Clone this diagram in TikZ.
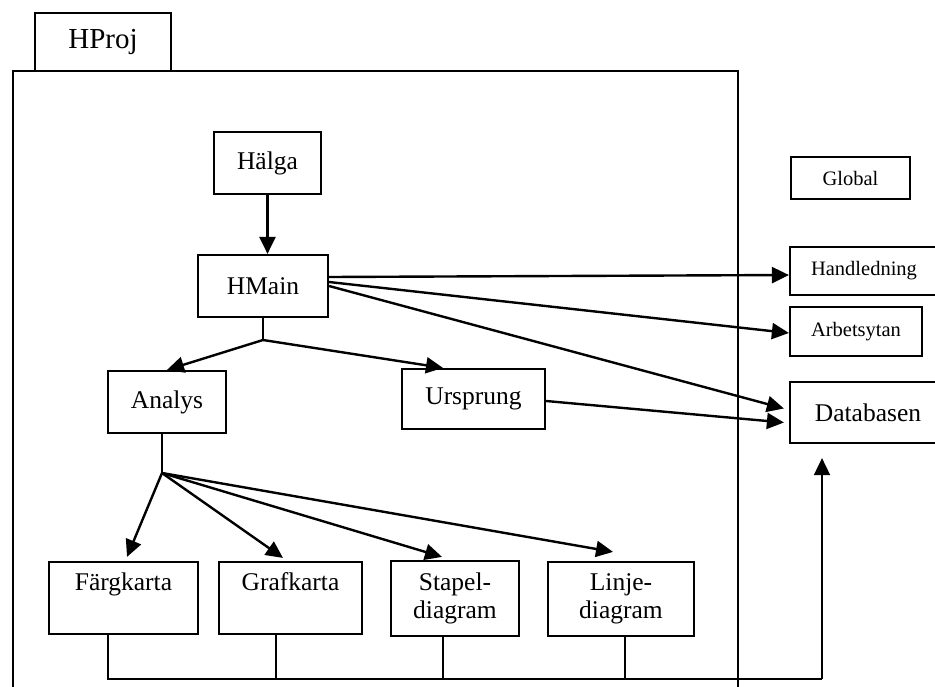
\documentclass[tikz,border=0pt]{standalone}
\usepackage{fontspec}
\setmainfont{Liberation Serif}
\usetikzlibrary{arrows.meta,calc}

\begin{document}
\begin{tikzpicture}[x=1pt,y=-1pt,
    box/.style={draw, line width=2.2pt, inner sep=0pt, align=center,
        font=\fontsize{25.5}{28}\selectfont},
    small/.style={box, font=\fontsize{20.5}{24}\selectfont},
    arr/.style={-{Triangle[length=17pt,width=16pt]}, line width=2.4pt},
    stem/.style={line width=1.6pt}]
    \useasboundingbox (0,0) rectangle (935,686);
    % package frame with its tab
    \draw[line width=2.2pt] (13,690) -- (13,71) -- (738,71) -- (738,690);
    \node[box, minimum width=136pt, minimum height=58pt, font=\fontsize{29}{32}\selectfont] (hproj) at (103,42) {HProj};
    % modules inside HProj
    \node[box, minimum width=107pt, minimum height=62pt] (halga) at (267.5,163) {Hälga};
    \node[box, minimum width=130pt, minimum height=62pt] (hmain) at (263,286) {HMain};
    \node[box, minimum width=118pt, minimum height=62pt] (analys) at (167,402) {Analys};
    \node[box, minimum width=143pt, minimum height=60pt] (ursprung) at (473.5,399) {Ursprung};
    \node[box, minimum width=149pt, minimum height=72pt] (farg) at (123.5,598) {Färgkarta\\\phantom{g}};
    \node[box, minimum width=143pt, minimum height=72pt] (graf) at (290.5,598) {Grafkarta\\\phantom{g}};
    \node[box, minimum width=128pt, minimum height=75pt] (stapel) at (455,598.5) {Stapel-\\diagram};
    \node[box, minimum width=146pt, minimum height=74pt] (linje) at (621,599) {Linje-\\diagram};
    % global modules
    \node[small, minimum width=119pt, minimum height=42pt] (global) at (850.5,178) {Global};
    \node[small, minimum width=148pt, minimum height=48pt] (handl) at (864,271) {Handledning};
    \node[small, minimum width=132pt, minimum height=49pt] (arbets) at (856,331.5) {Arbetsytan};
    \node[box, minimum width=156pt, minimum height=61pt] (datab) at (868,412.5) {Databasen};
    % calls
    \draw[arr] (halga.south) -- (halga.south |- hmain.north);
    \coordinate (j1) at (263,340);
    \draw[stem] (hmain.south) -- (j1);
    \draw[arr] (j1) -- (analys.north);
    \draw[arr] (j1) -- ([xshift=-30.5pt]ursprung.north);
    \coordinate (j2) at (162,473);
    \draw[stem] ([xshift=-5pt]analys.south) -- (j2);
    \draw[arr] (j2) -- ([xshift=3.5pt,yshift=4pt]farg.north);
    \draw[arr] (j2) -- ([xshift=-7.5pt,yshift=3pt]graf.north);
    \draw[arr] (j2) -- ([xshift=-13pt,yshift=3pt]stapel.north);
    \draw[arr] (j2) -- ([xshift=-8pt,yshift=9pt]linje.north);
    \draw[arr] ([yshift=9pt]hmain.east) -- ([yshift=-4pt]handl.west);
    \draw[arr] ([yshift=4pt]hmain.east) -- ([yshift=-1.5pt]arbets.west);
    \draw[arr] (hmain.east) -- ([xshift=-5pt,yshift=4pt]datab.west);
    \draw[arr] ([yshift=-2pt]ursprung.east) -- ([xshift=-5pt,yshift=-10pt]datab.west);
    % bus from the diagram modules to the database
    \coordinate (busend) at (822,679);
    \draw[stem] ([xshift=-15.5pt]farg.south) |- (busend);
    \draw[stem] ([xshift=-14.5pt]graf.south) -- ([xshift=-14.5pt]graf.south |- busend);
    \draw[stem] ([xshift=-12pt]stapel.south) -- ([xshift=-12pt]stapel.south |- busend);
    \draw[stem] ([xshift=4pt]linje.south) -- ([xshift=4pt]linje.south |- busend);
    \draw[arr, line width=1.8pt, shorten >=14pt] (busend) -- ([xshift=-46pt]datab.south);
\end{tikzpicture}
\end{document}
